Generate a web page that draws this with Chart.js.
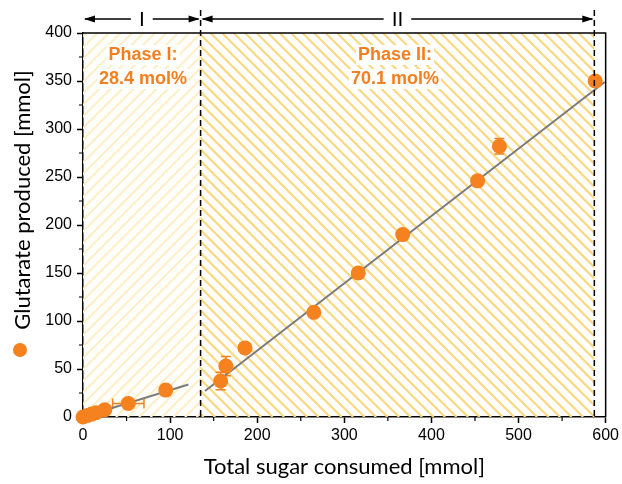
<!DOCTYPE html>
<html>
<head>
<meta charset="utf-8">
<script src="https://cdn.jsdelivr.net/npm/chart.js@4.4.1/dist/chart.umd.min.js"></script>
<style>
  html, body { margin: 0; padding: 0; background: #fff; }
  #wrap { width: 622px; height: 484px; }
</style>
</head>
<body>
<div id="wrap"><canvas id="myChart" width="622" height="484"></canvas></div>
<script>
// measured points
let sugar = [0, 5, 10, 15, 25, 52, 95, 158, 164, 186, 265, 316, 367, 453, 478, 588];
let glutarate = [0, 1.5, 3, 4.5, 7.5, 14, 28, 37.5, 53, 72, 109, 150, 190, 246, 282, 350];
let sugarErr = [0, 0, 0, 0, 0, 18, 0, 0, 0, 0, 0, 0, 0, 0, 0, 0];
let glutErr = [0, 0, 0, 0, 0, 0, 0, 9, 10, 0, 0, 0, 5, 4, 8, 0];

// linear fits for each phase
let fitIx = [0, 121];
let fitIy = [0, 33.9];
let fitIIx = [140, 599];
let fitIIy = [27.1, 348.9];

// phase limits on x
let phaseBounds = [0, 135, 587];
let phaseNames = ['I', 'II'];
let phaseLabels = [['Phase I:', '28.4 mol%'], ['Phase II:', '70.1 mol%']];

let orange = '#f5811f';
let grey = '#7b7b7b';
let font = '"Liberation Sans", Arial, sans-serif';

let points = sugar.map((x, i) => ({x: x, y: glutarate[i]}));

let phasePlugin = {
    id: 'phases',
    beforeDatasetsDraw(chart) {
        let ctx = chart.ctx;
        let xs = chart.scales.x, ys = chart.scales.y;
        let top = chart.chartArea.top, bottom = chart.chartArea.bottom;
        let h = bottom - top;
        let styles = [{color: '#fdefc6', dir: 1}, {color: '#fbd882', dir: -1}];
        for (let p = 0; p < 2; p++) {
            let x0 = xs.getPixelForValue(phaseBounds[p]);
            let x1 = xs.getPixelForValue(phaseBounds[p + 1]);
            ctx.save();
            ctx.beginPath();
            ctx.rect(x0, top, x1 - x0, h);
            ctx.clip();
            ctx.strokeStyle = styles[p].color;
            ctx.lineWidth = 2.2;
            for (let k = -h - 20; k < x1 - x0 + 20; k += 11.5) {
                ctx.beginPath();
                if (styles[p].dir > 0) {
                    ctx.moveTo(x0 + k, bottom);
                    ctx.lineTo(x0 + k + h, top);
                } else {
                    ctx.moveTo(x0 + k, top);
                    ctx.lineTo(x0 + k + h, bottom);
                }
                ctx.stroke();
            }
            ctx.restore();
        }

        // phase labels with white backing
        ctx.save();
        ctx.font = 'bold 18px ' + font;
        ctx.textAlign = 'center';
        ctx.textBaseline = 'middle';
        let centers = [143, 395];
        for (let p = 0; p < 2; p++) {
            phaseLabels[p].forEach((t, j) => {
                let y = 55 + j * 24;
                let w = ctx.measureText(t).width;
                ctx.fillStyle = '#fff';
                ctx.fillRect(centers[p] - w / 2 - 2, y - 10, w + 4, 20);
                ctx.fillStyle = '#f47f20';
                ctx.fillText(t, centers[p], y);
            });
        }
        ctx.restore();

        // error bars
        ctx.save();
        ctx.strokeStyle = orange;
        ctx.lineWidth = 1.5;
        sugar.forEach((x, i) => {
            let px = xs.getPixelForValue(x), py = ys.getPixelForValue(glutarate[i]);
            if (glutErr[i] > 0) {
                let a = ys.getPixelForValue(glutarate[i] - glutErr[i]);
                let b = ys.getPixelForValue(glutarate[i] + glutErr[i]);
                ctx.beginPath();
                ctx.moveTo(px, a); ctx.lineTo(px, b);
                ctx.moveTo(px - 5, a); ctx.lineTo(px + 5, a);
                ctx.moveTo(px - 5, b); ctx.lineTo(px + 5, b);
                ctx.stroke();
            }
            if (sugarErr[i] > 0) {
                let a = xs.getPixelForValue(x - sugarErr[i]);
                let b = xs.getPixelForValue(x + sugarErr[i]);
                ctx.beginPath();
                ctx.moveTo(a, py); ctx.lineTo(b, py);
                ctx.moveTo(a, py - 5); ctx.lineTo(a, py + 5);
                ctx.moveTo(b, py - 5); ctx.lineTo(b, py + 5);
                ctx.stroke();
            }
        });
        ctx.restore();
    },
    afterDraw(chart) {
        let ctx = chart.ctx;
        let xs = chart.scales.x, ys = chart.scales.y;
        let ca = chart.chartArea;
        ctx.save();
        // frame top + right
        ctx.strokeStyle = '#000';
        ctx.lineWidth = 1.5;
        ctx.beginPath();
        ctx.moveTo(ca.left, ca.top); ctx.lineTo(ca.right, ca.top); ctx.lineTo(ca.right, ca.bottom);
        ctx.stroke();

        // minor ticks
        ctx.lineWidth = 1.2;
        ctx.beginPath();
        for (let v = 50; v < 600; v += 100) {
            let px = xs.getPixelForValue(v);
            ctx.moveTo(px, ca.bottom); ctx.lineTo(px, ca.bottom + 4);
        }
        for (let v = 25; v < 400; v += 50) {
            let py = ys.getPixelForValue(v);
            ctx.moveTo(ca.left, py); ctx.lineTo(ca.left - 4, py);
        }
        ctx.stroke();

        // dashed phase separators
        ctx.setLineDash([6, 4]);
        ctx.lineWidth = 1.5;
        [phaseBounds[1], phaseBounds[2]].forEach(v => {
            let px = xs.getPixelForValue(v);
            ctx.beginPath();
            ctx.moveTo(px, 10); ctx.lineTo(px, ca.bottom);
            ctx.stroke();
        });
        ctx.setLineDash([]);

        // range arrows on top
        let ay = 19;
        ctx.font = '21px ' + font;
        ctx.textAlign = 'center';
        ctx.textBaseline = 'middle';
        ctx.fillStyle = '#000';
        for (let p = 0; p < 2; p++) {
            let x0 = xs.getPixelForValue(phaseBounds[p]);
            let x1 = xs.getPixelForValue(phaseBounds[p + 1]);
            let mid = (x0 + x1) / 2;
            let w = ctx.measureText(phaseNames[p]).width / 2 + 8;
            ctx.beginPath();
            ctx.moveTo(x0 + 2, ay); ctx.lineTo(mid - w, ay);
            ctx.moveTo(mid + w, ay); ctx.lineTo(x1 - 2, ay);
            ctx.stroke();
            [[x0 + 1, 1], [x1 - 1, -1]].forEach(([tx, d]) => {
                ctx.beginPath();
                ctx.moveTo(tx, ay);
                ctx.lineTo(tx + d * 11, ay - 3.5);
                ctx.lineTo(tx + d * 11, ay + 3.5);
                ctx.closePath();
                ctx.fill();
            });
            ctx.fillText(phaseNames[p], mid, ay + 1);
        }

        // axis titles
        ctx.font = '22px Lato, "Open Sans", sans-serif';
        ctx.fillText('Total sugar consumed [mmol]', (ca.left + ca.right) / 2, 467);
        ctx.save();
        ctx.translate(23, 200);
        ctx.rotate(-Math.PI / 2);
        ctx.fillText('Glutarate produced [mmol]', 0, 0);
        ctx.restore();

        // legend symbol
        ctx.fillStyle = orange;
        ctx.beginPath();
        ctx.arc(20, 350, 7, 0, Math.PI * 2);
        ctx.fill();
        ctx.restore();
    }
};

let myChart = document.getElementById('myChart').getContext('2d');

let chart = new Chart(myChart, {
    type: 'scatter',
    data: {
        datasets: [
            {
                data: fitIx.map((x, i) => ({x: x, y: fitIy[i]})),
                showLine: true,
                borderColor: grey,
                borderWidth: 2,
                pointRadius: 0,
                order: 2
            },
            {
                data: fitIIx.map((x, i) => ({x: x, y: fitIIy[i]})),
                showLine: true,
                borderColor: grey,
                borderWidth: 2,
                pointRadius: 0,
                order: 2
            },
            {
                data: points,
                backgroundColor: orange,
                borderColor: orange,
                pointRadius: 7.5,
                borderWidth: 0,
                clip: false,
                order: 1
            }
        ]
    },
    options: {
        responsive: false,
        animation: false,
        layout: { padding: { left: 0, top: 33, right: 16, bottom: 0 } },
        plugins: { legend: { display: false }, tooltip: { enabled: false } },
        scales: {
            x: {
                type: 'linear',
                min: 0, max: 600,
                afterFit(scale) { scale.height = 67; },
                ticks: { stepSize: 100, color: '#000', font: { family: font, size: 16 }, padding: 3, maxRotation: 0 },
                grid: { drawOnChartArea: false, tickLength: 6, color: '#000', tickWidth: 1.5 },
                border: { display: true, color: '#000', width: 1.5 }
            },
            y: {
                min: 0, max: 400,
                afterFit(scale) { scale.width = 83; },
                ticks: { stepSize: 50, color: '#000', font: { family: font, size: 16 }, padding: 5 },
                grid: { drawOnChartArea: false, tickLength: 6, color: '#000', tickWidth: 1.5 },
                border: { display: true, color: '#000', width: 1.5 }
            }
        }
    },
    plugins: [phasePlugin]
});
</script>
</body>
</html>
